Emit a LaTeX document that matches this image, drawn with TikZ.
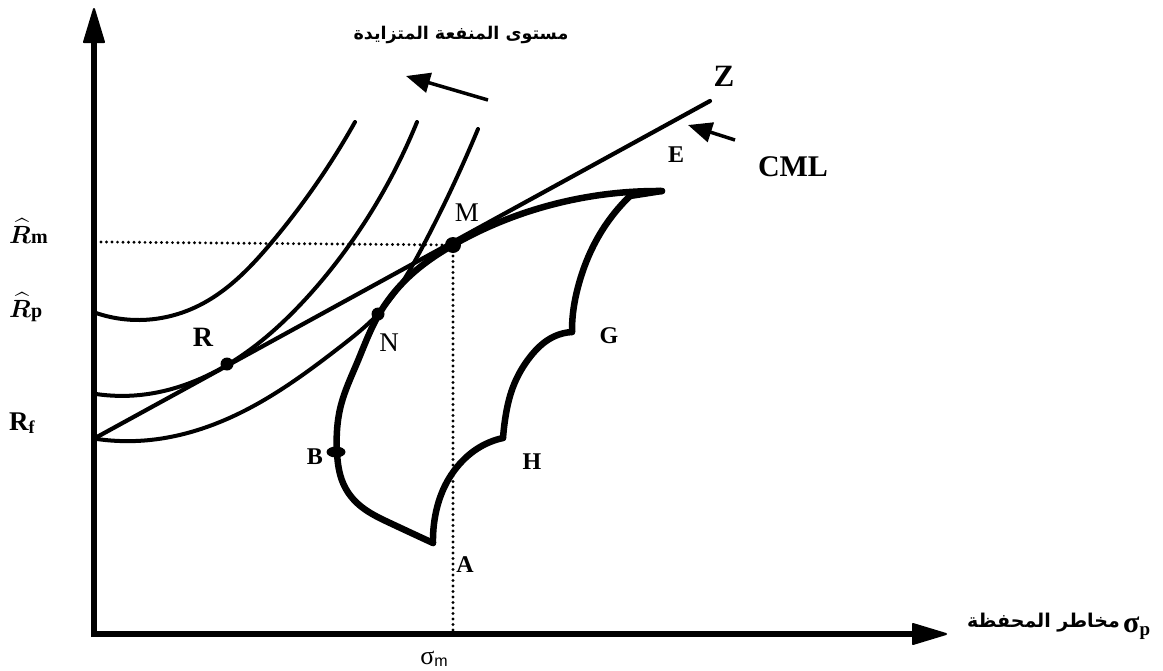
\documentclass[tikz,border=0pt]{standalone}
\usepackage{amsmath}
\usepackage{bm}
\usepackage{fontspec}
\setmainfont{Liberation Serif}
\newfontfamily\arabicfont[Script=Arabic]{DejaVu Sans}
\newfontfamily\lsans{Liberation Sans}
\TeXXeTstate=1
\usetikzlibrary{arrows.meta,shapes.geometric,hobby}
\begin{document}
\begin{tikzpicture}[x=1pt,y=-1pt,
  lbl/.style={font=\bfseries\fontsize{28}{28}\selectfont, inner sep=0pt},
  slbl/.style={font=\bfseries\fontsize{24}{24}\selectfont, inner sep=0pt},
  mlbl/.style={font=\fontsize{27}{27}\selectfont, inner sep=0pt},
  axis/.style={line width=6pt},
  icurve/.style={line width=4pt, line cap=round, use Hobby shortcut},
  front/.style={line width=6.5pt, line cap=round, line join=round, use Hobby shortcut},
  cml/.style={line width=4.2pt, line cap=round},
  guide/.style={line width=3.2pt, line cap=round, dash pattern=on 0pt off 5.5pt},
  dot/.style={circle, fill=black, inner sep=0pt, minimum size=13pt},
  head/.style={fill=black, draw=black, line width=2pt, line join=round},
  pointer/.style={line width=3.5pt, -{Triangle[length=24pt,width=20pt]}}
]
\useasboundingbox (0,0) rectangle (1163,670);

% named points
\coordinate (Ytop) at (94,40);
\coordinate (Xend) at (915,634);
\coordinate (Rf) at (97,437);
\coordinate (Zend) at (710,101);
\coordinate (Mp) at (453,245);
\coordinate (Hl) at (101,242);
\coordinate (Vb) at (453,630);
\coordinate (UT) at (488,100);
\coordinate (UH) at (406,76);
\coordinate (CT) at (735,140);
\coordinate (CH) at (688,125);

% axes
\draw[axis] (94,637) -- (Ytop);
\draw[axis] (91,634) -- (Xend);
\fill[head] (94,9) -- (84,42) -- (104,42) -- cycle;
\fill[head] (946,634) -- (913,624) -- (913,644) -- cycle;

% dotted guides
\draw[guide] (Hl) -- (Mp);
\draw[guide] (Mp) -- (Vb);

% indifference curves
\draw[icurve] (96,313) .. (140,320) .. (200,305) .. (272,242) .. (355,122);
\draw[icurve] (96,394) .. (140,395) .. (227,365) .. (300,305) .. (350,244) .. (417,122);
\draw[icurve] (97,439) .. (150,440) .. (240,413) .. (340,347) .. (378,314) .. (423,246) .. (478,129);

% CML
\draw[cml] (Rf) -- (Zend);

% feasible set: efficient frontier
\draw[front] (433,543) .. (390,523) .. (357,503) .. (343,483) .. (337,453) .. (341,405) .. (357,363) .. (378,316) .. (413,273) .. (453,245) .. (540,208) .. (662,191);
% right boundary
\draw[front] (662,191) -- (630,196);
\draw[front] (630,196) .. (607,223) .. (590,253) .. (578,287) .. (573,313) .. (572,332);
\draw[front] (572,332) .. (553,337) .. (530,357) .. (513,387) .. (505,420) .. (503,438);
\draw[front] (503,438) .. (480,447) .. (457,467) .. (443,490) .. (435,517) .. (433,543);

% dots
\node[dot] (Rdot) at (227,364) {};
\node[dot] (Ndot) at (378,314) {};
\node[dot, minimum size=16pt] (Mdot) at (Mp) {};
\node[ellipse, fill=black, inner sep=0pt, minimum width=19pt, minimum height=11pt] (Bdot) at (336,452) {};

% arrows
\draw[pointer] (UT) -- (UH);
\draw[pointer] (CT) -- (CH);

% labels
\node[lbl] (lR) at (203,337) {R};
\node[mlbl] (lM) at (467,213) {M};
\node[mlbl] (lN) at (389,343) {N};
\node[slbl] (lB) at (315,457) {B};
\node[slbl] (lA) at (465,565) {A};
\node[slbl] (lH) at (532,462) {H};
\node[slbl] (lG) at (609,336) {G};
\node[slbl] (lE) at (676,155) {E};
\node[font=\bfseries\fontsize{31}{31}\selectfont, inner sep=0pt] (lZ) at (724,76) {Z};
\node[font=\bfseries\fontsize{30}{30}\selectfont, inner sep=0pt] (lCML) at (793,167) {CML};

\node[anchor=base west, inner sep=0pt, font=\fontsize{30}{30}\selectfont] (lRm) at (9,243) {$\bm{\widehat{R}}$\bfseries\fontsize{20}{20}\selectfont m};
\node[anchor=base west, inner sep=0pt, font=\fontsize{30}{30}\selectfont] (lRp) at (9,317) {$\bm{\widehat{R}}$\bfseries\fontsize{20}{20}\selectfont p};
\node[anchor=base west, inner sep=0pt, font=\bfseries\fontsize{27}{27}\selectfont] (lRf) at (9,430) {R\raisebox{-3pt}{\fontsize{18}{18}\selectfont f}};

\node[anchor=base, inner sep=0pt, font=\fontsize{26}{26}\selectfont] (lsm) at (434,664) {σ\raisebox{-2pt}{\lsans\fontsize{16}{16}\selectfont m}};

\node[inner sep=0pt] (title) at (461,35) {\arabicfont\bfseries\fontsize{17.5}{17.5}\selectfont\beginR مستوى المنفعة المتزايدة\endR};
\node[inner sep=0pt, anchor=east] (xlab) at (1120,623) {\arabicfont\bfseries\fontsize{19}{19}\selectfont\beginR مخاطر المحفظة\endR};
\node[anchor=base west, inner sep=0pt, font=\bfseries\fontsize{30}{30}\selectfont] (lsp) at (1123,632) {σ\raisebox{-3pt}{\fontsize{19}{19}\selectfont p}};
\end{tikzpicture}
\end{document}
